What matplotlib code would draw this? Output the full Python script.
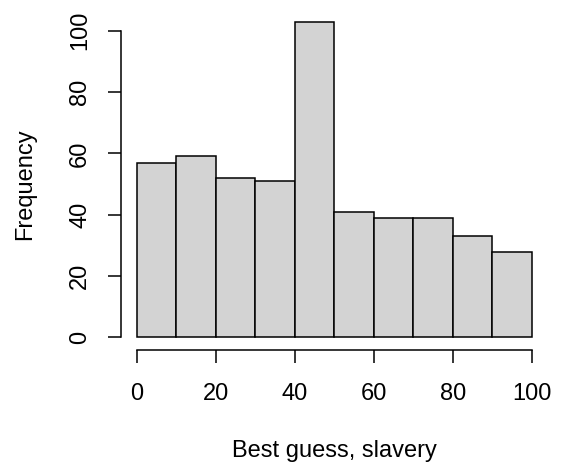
import matplotlib
matplotlib.use("Agg")
import matplotlib.pyplot as plt
import numpy as np

# histogram bins (width 10) and counts
bin_edges = [0, 10, 20, 30, 40, 50, 60, 70, 80, 90, 100]
counts = [57, 59, 52, 51, 103, 41, 39, 39, 33, 28]
x_ticks = [0, 20, 40, 60, 80, 100]
y_ticks = [0, 20, 40, 60, 80, 100]

plt.rcParams['font.family'] = ['Liberation Sans', 'DejaVu Sans']

fig = plt.figure(figsize=(5.61, 4.68), dpi=100)
ax = fig.add_axes([0.2155, 0.2521, 0.761, 0.7289])

lefts = np.array(bin_edges[:-1])
widths = np.diff(bin_edges)
ax.bar(lefts, counts, width=widths, align='edge', color='#d3d3d3',
       edgecolor='black', linewidth=1.1)

# R-style 4% padding around the data range
ax.set_xlim(-4, 104)
ax.set_ylim(-0.04 * max(counts), max(counts) * 1.04)

for side in ['top', 'right']:
    ax.spines[side].set_visible(False)
ax.spines['left'].set_bounds(0, 100)
ax.spines['bottom'].set_bounds(0, 100)
for side in ['left', 'bottom']:
    ax.spines[side].set_linewidth(1.1)

ax.set_xticks(x_ticks)
ax.set_yticks(y_ticks)
ax.tick_params(axis='both', length=9.5, width=1.1, labelsize=17)
ax.tick_params(axis='x', pad=14)
ax.tick_params(axis='y', pad=12)
for lbl in ax.get_yticklabels():
    lbl.set_rotation(90)
    lbl.set_va('center')

fig.text(0.5 * (0.2155 + 0.9765), 1 - 451.5 / 468, 'Best guess, slavery',
         ha='center', va='center', fontsize=17)
fig.text(25 / 561, 0.2521 + 0.7289 * (4.12 + 50) / 111.24, 'Frequency',
         ha='center', va='center', rotation=90, fontsize=17)

fig.savefig('out.png', dpi=100)
